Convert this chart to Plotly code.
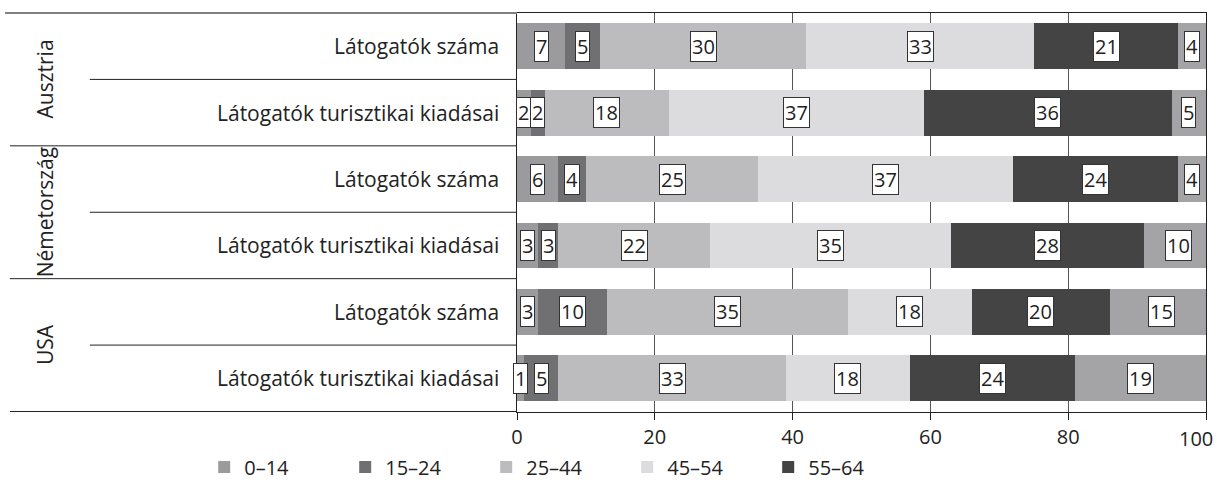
import plotly.graph_objects as go

countries = ["Ausztria", "Ausztria", "Németország", "Németország", "USA", "USA"]
metrics = ["Látogatók száma", "Látogatók turisztikai kiadásai"] * 3
age_groups = ["0–14", "15–24", "25–44", "45–54", "55–64", "65+"]
v_0_14 = [7, 2, 6, 3, 3, 1]
v_15_24 = [5, 2, 4, 3, 10, 5]
v_25_44 = [30, 18, 25, 22, 35, 33]
v_45_54 = [33, 37, 37, 35, 18, 18]
v_55_64 = [21, 36, 24, 28, 20, 24]
v_65p = [4, 5, 4, 10, 15, 19]
x_ticks = [0, 20, 40, 60, 80, 100]
x_ticktext = ["0", "20", "40", "60", "80", ""]
last_tick_label = "100"

series = [v_0_14, v_15_24, v_25_44, v_45_54, v_55_64, v_65p]
colors = ["#9b9b9d", "#707072", "#bcbcbe", "#dcdcde", "#444444", "#a4a4a6"]
show_leg = [True, True, True, True, True, False]

cats = [f"{c} | {m}" for c, m in zip(countries, metrics)]
FONT = "Open Sans"
TXT = "#222222"

fig = go.Figure()
for name, vals, col, sl in zip(age_groups, series, colors, show_leg):
    fig.add_trace(go.Bar(
        y=cats, x=vals, name=name, orientation="h",
        marker=dict(color=col, line=dict(width=0)),
        width=0.69, showlegend=sl, hoverinfo="x+name",
    ))

annotations = []
# value boxes
for i, cat in enumerate(cats):
    cum = 0
    for vals in series:
        v = vals[i]
        annotations.append(dict(
            x=cum + v / 2, y=cat, xref="x", yref="y", text=str(v),
            showarrow=False, bgcolor="white", bordercolor="#333333",
            borderwidth=1, borderpad=1,
            font=dict(family=FONT, size=20, color=TXT),
        ))
        cum += v
# category labels
for i, cat in enumerate(cats):
    annotations.append(dict(
        x=0, y=cat, xref="paper", yref="y", text=metrics[i],
        xanchor="right", xshift=-16, showarrow=False,
        font=dict(family=FONT, size=21, color=TXT),
    ))
# group labels
seen = []
for i, c in enumerate(countries):
    if c in seen:
        continue
    seen.append(c)
    n = countries.count(c)
    annotations.append(dict(
        x=-0.685, y=i + (n - 1) / 2, xref="paper", yref="y", text=c,
        textangle=-90, showarrow=False, xanchor="center", yanchor="middle",
        font=dict(family=FONT, size=21, color=TXT),
    ))
# last x tick label, kept inside the page
annotations.append(dict(
    x=1, y=0, xref="paper", yref="paper", text=last_tick_label,
    xanchor="right", yanchor="top", xshift=9, yshift=-11, showarrow=False,
    font=dict(family=FONT, size=20, color=TXT),
))

shapes = []
# separators
for i in range(1, len(cats) + 1):
    pos = i - 0.5
    if i == len(cats) or countries[i] != countries[i - 1]:
        x0 = -0.736
    else:
        x0 = -0.62
    shapes.append(dict(type="line", xref="paper", yref="y", x0=x0, x1=0,
                       y0=pos, y1=pos, line=dict(color="#222222", width=1)))
shapes.append(dict(type="line", xref="paper", yref="paper", x0=-0.743, x1=0,
                   y0=1, y1=1, line=dict(color="#808080", width=2)))

fig.update_layout(
    width=1217, height=483,
    margin=dict(l=517, r=11, t=13, b=71, autoexpand=False),
    paper_bgcolor="white", plot_bgcolor="white",
    barmode="stack", bargap=0.31,
    font=dict(family=FONT, size=20, color=TXT),
    xaxis=dict(range=[0, 100], tickvals=x_ticks, ticktext=x_ticktext,
               showgrid=True, automargin=False,
               gridcolor="#555555", gridwidth=1, zeroline=False,
               showline=True, linecolor="#222222", linewidth=1, mirror=True,
               ticks="outside", ticklen=7, tickcolor="#222222",
               tickfont=dict(family=FONT, size=20, color=TXT), fixedrange=True),
    yaxis=dict(categoryorder="array", categoryarray=cats, automargin=False,
               autorange="reversed", showticklabels=False, showgrid=False,
               zeroline=False, showline=True, linecolor="#222222",
               linewidth=1, mirror=True, ticks="", fixedrange=True),
    legend=dict(orientation="h", x=-0.454, xanchor="left", y=-0.138,
                yanchor="middle", entrywidth=96, entrywidthmode="pixels",
                font=dict(family=FONT, size=20, color=TXT), traceorder="normal"),
    annotations=annotations, shapes=shapes,
)

fig.write_html(
    "out.html",
    config={"displayModeBar": False},
    post_script="document.body.style.margin='0';document.body.style.overflow='hidden';",
)
